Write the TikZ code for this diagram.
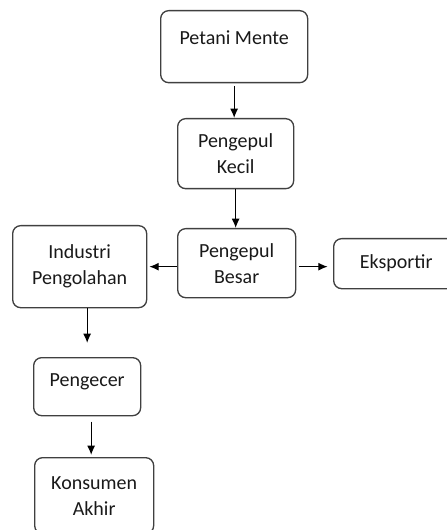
\documentclass[tikz,border=0pt]{standalone}
\usepackage{fontspec}
\setmainfont{Carlito}
\usepackage{tikz}
\usetikzlibrary{arrows.meta}
\newcommand{\pxu}{0.75pt}

\tikzset{
  box/.style={draw=black!75, line width=1pt, rounded corners=6pt, anchor=north west,
    inner sep=0pt, align=center, text=black!90,
    font=\fontsize{15}{19.5}\selectfont},
  arr/.style={draw=black, line width=0.9pt, -{Latex[length=7pt,width=6pt]}}
}

\begin{document}
\begin{tikzpicture}[x=0.75pt,y=0.75pt,yscale=-1,xscale=1]
\useasboundingbox (0,0) rectangle (446,530);

% Boxes
\node [box, minimum width=147*\pxu, minimum height=72*\pxu, text depth=14pt] (petani) at (160,10) {Petani Mente};
\node [box, minimum width=116*\pxu, minimum height=70*\pxu] (kecil) at (177,118) {Pengepul\\Kecil};
\node [box, minimum width=118*\pxu, minimum height=69*\pxu] (besar) at (177,228) {Pengepul\\Besar};
\node [box, minimum width=134*\pxu, minimum height=82*\pxu] (industri) at (12,225) {Industri\\Pengolahan};
\node [box, minimum width=125*\pxu, minimum height=50*\pxu, text width=113*\pxu] (ekspor) at (333,238) {Eksportir};
\node [box, minimum width=107*\pxu, minimum height=58*\pxu, text depth=9.5pt] (pengecer) at (33,357) {Pengecer};
\node [box, minimum width=119*\pxu, minimum height=76*\pxu] (konsumen) at (34,457) {Konsumen\\Akhir};

% Connections
\draw [arr, shorten <=2pt] (petani.south) -- (petani.south |- kecil.north);
\draw [arr] (kecil.south) -- (kecil.south |- besar.north);
\draw [arr, shorten >=1.5pt] (besar.west |- industri.east) -- (industri.east);
\draw [arr, shorten <=2pt, shorten >=4pt] (besar.east |- industri.east) -- (ekspor.west |- industri.east);
\draw [arr, shorten >=10.5pt] (pengecer.north |- industri.south) -- (pengecer.north);
\draw [arr, shorten <=4pt, shorten >=1.5pt] ([xshift=3]pengecer.south) -- ([xshift=3]pengecer.south |- konsumen.north);

\end{tikzpicture}
\end{document}
